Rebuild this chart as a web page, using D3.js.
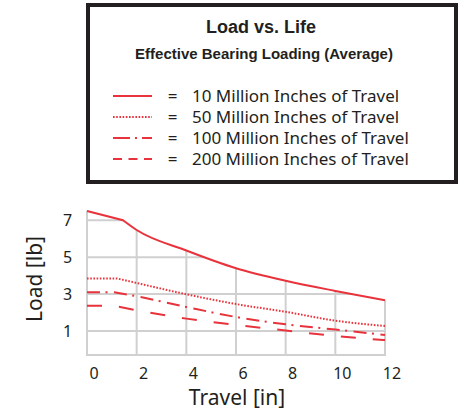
<!DOCTYPE html>
<html lang="en">
<head>
<meta charset="utf-8">
<title>Load vs. Life</title>
<script src="https://d3js.org/d3.v7.min.js"></script>
<style>
body { margin: 0; background: #fff; }
svg { display: block; }
.grid line { stroke: #d0d0d0; stroke-width: 2; }
.tick-label { font: 16px "Noto Sans", sans-serif; fill: #231f20; }
.axis-title { font: 21px "Noto Sans", sans-serif; fill: #231f20; }
.legend-text { font: 17px "Noto Sans", sans-serif; fill: #231f20; }
.curve { fill: none; stroke: #e8333c; stroke-width: 2; }
</style>
</head>
<body>
<svg width="459" height="410"></svg>
<script>

// values
var xTicks = [0, 2, 4, 6, 8, 10, 12];
var yTicks = [1, 3, 5, 7];

var life10 = [[0, 7.5], [1.45, 7.0], [2, 6.47], [4, 5.36], [6, 4.40], [8, 3.72], [10, 3.17], [12, 2.66]];
var life50 = [[0, 3.85], [1.2, 3.85], [2, 3.6], [4, 2.99], [6, 2.46], [8, 2.04], [10, 1.56], [12, 1.27]];
var life100 = [[0, 3.1], [1.1, 3.1], [2, 2.88], [4, 2.3], [6, 1.76], [8, 1.36], [10, 1.08], [12, 0.78]];
var life200 = [[0, 2.37], [1.1, 2.36], [2, 2.12], [4, 1.67], [6, 1.33], [8, 1.03], [10, 0.73], [12, 0.51]];

var legendLabels = ["10 Million Inches of Travel", "50 Million Inches of Travel",
                    "100 Million Inches of Travel", "200 Million Inches of Travel"];

var series = [
  {data: life10, dash: null, legendDash: null},
  {data: life50, dash: "1.6,1.6", legendDash: "1.6,1.6"},
  {data: life100, dash: "13,5.5,2,6.5", legendDash: "17,5,2,5"},
  {data: life200, dash: "15,17", legendDash: "9,6.5"}
];

var svg = d3.select("svg");

var left = 87, right = 385, bottom = 355;

var x = d3.scaleLinear().domain([0, 12]).range([left, right]);
var y = d3.scaleLinear().domain([-0.3, 7.5]).range([bottom, 211]);

var smooth = d3.line()
    .x(function(d) { return x(d[0]); })
    .y(function(d) { return y(d[1]); })
    .curve(d3.curveMonotoneX);

// straight first stretch, then the smooth decline
function curvePath(pts) {
  var tail = smooth(pts.slice(1));
  return "M" + x(pts[0][0]) + "," + y(pts[0][1]) + "L" + tail.slice(1);
}

// grid only shows under the top curve
var last = life10[life10.length - 1];
var clipD = curvePath(life10) +
    "L" + (x(last[0]) + 2) + "," + y(last[1]) +
    "L" + (x(last[0]) + 2) + "," + (bottom + 2) +
    "L" + (left - 2) + "," + (bottom + 2) +
    "L" + (left - 2) + "," + y(life10[0][1]) + "Z";

svg.append("defs").append("clipPath").attr("id", "under")
  .append("path").attr("d", clipD);

var grid = svg.append("g").attr("class", "grid").attr("clip-path", "url(#under)");

grid.selectAll(".h").data(yTicks).enter().append("line")
    .attr("x1", left).attr("x2", right)
    .attr("y1", function(d) { return y(d); })
    .attr("y2", function(d) { return y(d); });

grid.append("line")
    .attr("x1", left - 1).attr("x2", right + 1)
    .attr("y1", bottom).attr("y2", bottom);

grid.selectAll(".v").data(xTicks).enter().append("line")
    .attr("x1", function(d) { return x(d); })
    .attr("x2", function(d) { return x(d); })
    .attr("y1", y(7.6)).attr("y2", bottom + 1);

svg.selectAll(".curve").data(series).enter().append("path")
    .attr("class", "curve")
    .attr("d", function(d) { return curvePath(d.data); })
    .attr("stroke-dasharray", function(d) { return d.dash; });

// tick labels
svg.selectAll(".ylab").data(yTicks).enter().append("text")
    .attr("class", "tick-label")
    .attr("x", 67.5)
    .attr("y", function(d) { return y(d); })
    .attr("dy", "0.36em")
    .attr("text-anchor", "middle")
    .text(function(d) { return d; });

svg.selectAll(".xlab").data(xTicks).enter().append("text")
    .attr("class", "tick-label")
    .attr("x", function(d) { return x(d) + 7; })
    .attr("y", 379)
    .attr("text-anchor", "middle")
    .text(function(d) { return d; });

svg.append("text")
    .attr("class", "axis-title")
    .attr("transform", "translate(42,279) rotate(-90)")
    .attr("text-anchor", "middle")
    .text("Load [lb]");

svg.append("text")
    .attr("class", "axis-title")
    .attr("x", 237)
    .attr("y", 405)
    .attr("text-anchor", "middle")
    .text("Travel [in]");

// legend box
var box = svg.append("g");

box.append("rect")
    .attr("x", 88).attr("y", 5)
    .attr("width", 368).attr("height", 177)
    .attr("fill", "#fff")
    .attr("stroke", "#231f20")
    .attr("stroke-width", 4);

box.append("text")
    .attr("x", 261).attr("y", 33)
    .attr("text-anchor", "middle")
    .style("font", "bold 18px 'Liberation Sans', Arial, sans-serif")
    .style("fill", "#231f20")
    .text("Load vs. Life");

box.append("text")
    .attr("x", 264).attr("y", 59)
    .attr("text-anchor", "middle")
    .style("font", "bold 15px 'Liberation Sans', Arial, sans-serif")
    .style("fill", "#231f20")
    .text("Effective Bearing Loading (Average)");

var rowY = [96, 117, 138, 159];

var rows = box.selectAll(".row").data(series).enter().append("g")
    .attr("transform", function(d, i) { return "translate(0," + rowY[i] + ")"; });

rows.append("line")
    .attr("x1", 113).attr("x2", 152)
    .attr("y1", 0).attr("y2", 0)
    .attr("stroke", "#e8333c")
    .attr("stroke-width", 2)
    .attr("stroke-dasharray", function(d) { return d.legendDash; });

rows.append("text")
    .attr("class", "legend-text")
    .attr("x", 172.5).attr("y", 6)
    .attr("text-anchor", "middle")
    .text("=");

rows.append("text")
    .attr("class", "legend-text")
    .attr("x", 192).attr("y", 6)
    .text(function(d, i) { return legendLabels[i]; });

</script>
</body>
</html>
